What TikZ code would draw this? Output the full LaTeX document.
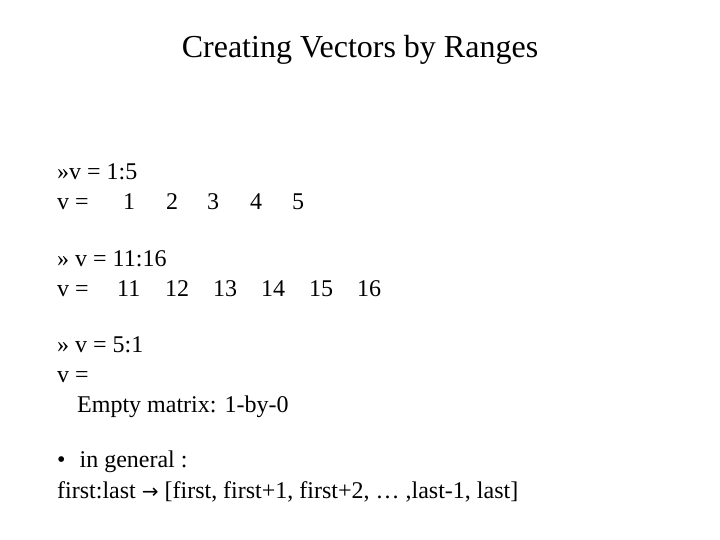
\documentclass[tikz,border=0pt]{standalone}
\usepackage{fontspec}
\setmainfont{Liberation Serif}
\newfontfamily\arrowfont{DejaVu Sans}
\tikzset{
  txt/.style={anchor=base west, inner sep=0pt, font=\fontsize{24}{28}\selectfont},
  ttl/.style={anchor=base, inner sep=0pt, font=\fontsize{32}{36}\selectfont}
}
\begin{document}
\begin{tikzpicture}[x=1pt,y=-1pt]
  \useasboundingbox[fill=white] (0,0) rectangle (720,540);

  \node[ttl] (title) at (360,58) {Creating Vectors by Ranges};

  % first range
  \node[txt] (cmdA) at (57,180) {>>v = 1:5};
  \node[txt] (resA) at (57,210) {v =};
  \foreach \x/\n in {123/1,166/2,207/3,250/4,292/5}
    \node[txt] (a\n) at (\x,210) {\n};

  % second range
  \node[txt] (cmdB) at (57,266) {>> v = 11:16};
  \node[txt] (resB) at (57,296) {v =};
  \foreach \x/\n in {117/11,165/12,213/13,261/14,309/15,357/16}
    \node[txt] (b\n) at (\x,296) {\n};

  % empty range
  \node[txt] (cmdC) at (57,352) {>> v = 5:1};
  \node[txt] (resC) at (57,382) {v =};
  \node[txt] (empty) at (77,412) {Empty matrix: 1-by-0};

  % general form
  \node[txt] (dot) at (57,467) {\textbullet\hspace{14pt}in general :};
  \node[txt] (gen) at (57,498) {first:last {\arrowfont\fontsize{20}{24}\selectfont→} [first, first+1, first+2, … ,last-1, last]};
\end{tikzpicture}
\end{document}
